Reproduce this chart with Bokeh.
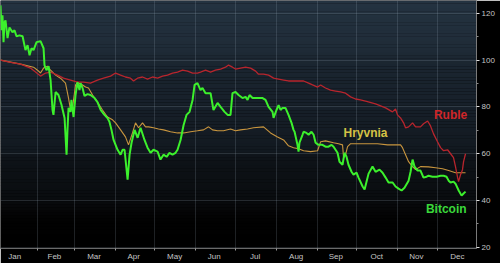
from bokeh.plotting import figure
from bokeh.models import Range1d, FixedTicker, Label, BoxAnnotation
from bokeh.embed import file_html
from bokeh.resources import INLINE

# x = day of 2014 (0 = 1 Jan), y = index (1 Jan = 100)
bitcoin_day = [3.2, 4.0, 4.7, 5.5, 6.2, 7.0, 8.5, 10.0, 12.3, 13.8, 15.3, 17.6, 19.9, 22.1, 23.7, 25.2,
               26.7, 28.2, 30.5, 33.5, 35.8, 36.5, 38.0, 39.6, 41.1, 42.6, 43.3, 44.9, 47.1, 49.4, 51.7,
               53.2, 53.9, 54.7, 56.2, 56.9, 58.5, 60.0, 61.5, 63.0, 63.8, 65.3, 66.8, 69.1, 71.3, 74.4,
               76.6, 79.0, 81.9, 84.2, 85.7, 87.2, 88.8, 90.3, 91.8, 94.1, 95.6, 97.1, 99.4, 100.9, 102.4,
               104.7, 107.0, 109.2, 112.2, 114.5, 116.8, 119.0, 122.1, 124.3, 126.6, 128.9, 131.1, 133.4,
               135.7, 137.2, 139.5, 141.8, 144.0, 146.3, 148.6, 150.1, 152.3, 154.6, 156.1, 158.4, 162.2,
               164.4, 167.5, 169.8, 172.8, 175.1, 177.3, 178.8, 181.1, 183.4, 186.4, 188.7, 190.2, 191.7,
               194.0, 198.5, 201.6, 203.8, 206.1, 209.1, 209.9, 212.1, 213.7, 215.2, 216.7, 218.9, 221.2,
               223.5, 225.0, 225.8, 228.0, 228.8, 229.5, 231.8, 232.6, 234.8, 236.4, 238.6, 240.2, 241.7,
               243.9, 246.9, 249.2, 251.5, 253.8, 255.3, 258.3, 259.8, 262.1, 263.6, 265.1, 266.6, 268.9,
               270.4, 272.7, 274.2, 277.3, 278.8, 280.3, 281.8, 284.8, 287.1, 290.1, 292.4, 294.7, 296.9,
               300.0, 302.2, 304.5, 306.8, 309.0, 312.1, 313.6, 315.1, 316.6, 318.9, 321.1, 323.4, 325.7,
               327.2, 330.2, 333.3, 336.3, 338.6, 340.8, 342.4, 343.9, 346.1, 347.6, 350.0, 352.2, 353.7,
               355.2]
bitcoin_val = [123.4, 112.8, 119.2, 107.7, 116.2, 117.0, 109.4, 114.0, 111.9, 112.8, 110.2, 110.6, 110.2,
               104.3, 106.4, 102.1, 105.1, 104.3, 107.7, 108.1, 105.1, 97.9, 95.7, 97.4, 91.5, 78.7, 76.6,
               86.4, 85.1, 80.8, 75.3, 59.6, 70.2, 79.6, 77.9, 83.0, 75.7, 85.1, 90.6, 87.2, 90.2, 88.1,
               84.7, 85.5, 85.1, 83.8, 82.1, 78.7, 76.6, 75.3, 73.6, 70.2, 65.9, 63.8, 61.7, 59.6, 61.7,
               61.7, 48.9, 59.6, 64.7, 70.2, 66.8, 71.1, 65.9, 62.6, 60.4, 61.7, 60.9, 57.5, 59.6, 58.7,
               60.4, 59.6, 60.4, 61.7, 65.9, 72.3, 76.6, 77.9, 83.0, 89.4, 90.2, 87.2, 88.1, 85.9, 85.9,
               78.7, 81.7, 80.0, 77.9, 76.6, 76.6, 85.9, 86.4, 85.1, 83.8, 84.3, 83.0, 85.1, 83.8, 83.8,
               83.8, 83.0, 80.0, 77.9, 75.3, 78.7, 80.8, 78.7, 79.6, 79.6, 76.6, 73.2, 70.2, 69.4, 63.8,
               60.9, 64.7, 68.1, 69.4, 68.9, 68.1, 69.4, 68.1, 64.7, 63.8, 63.8, 63.0, 63.0, 63.8, 63.0,
               60.4, 56.6, 55.3, 60.4, 58.7, 55.3, 52.3, 51.1, 51.9, 49.8, 46.0, 44.7, 48.1, 51.5, 54.5,
               52.3, 53.2, 51.9, 49.8, 47.7, 47.7, 46.0, 45.1, 44.3, 45.5, 48.5, 52.3, 57.5, 54.5, 52.8,
               52.8, 49.8, 50.2, 50.6, 50.2, 50.2, 50.6, 50.6, 50.2, 48.5, 47.7, 48.1, 47.2, 44.3, 42.1,
               43.0, 43.8]

ruble_day = [3.2, 10.8, 18.4, 25.9, 29.7, 33.5, 37.3, 41.1, 46.4, 50.9, 56.2, 61.5, 66.0, 71.3, 76.6, 81.2,
             86.5, 90.3, 94.1, 97.8, 101.6, 103.9, 106.9, 110.7, 114.5, 118.3, 122.1, 125.9, 129.6, 133.4,
             137.2, 141.0, 144.8, 148.6, 152.3, 154.6, 158.4, 162.2, 165.9, 169.8, 173.5, 175.8, 178.8,
             181.1, 184.9, 188.7, 192.5, 196.3, 198.5, 202.3, 206.1, 209.9, 213.7, 217.5, 221.2, 225.0,
             228.8, 232.6, 236.4, 239.4, 243.2, 245.5, 249.2, 253.0, 256.8, 260.6, 264.4, 268.2, 271.9,
             275.7, 279.5, 287.1, 294.7, 299.9, 302.2, 303.7, 306.0, 308.3, 309.8, 312.1, 315.1, 317.4,
             321.1, 323.4, 326.5, 328.7, 331.0, 334.0, 336.3, 338.6, 341.6, 343.9, 346.1, 347.6, 349.2,
             349.9, 351.4, 352.9, 353.7, 355.2]
ruble_val = [100.0, 99.1, 98.3, 96.6, 94.9, 93.2, 94.5, 94.9, 93.6, 92.3, 91.5, 90.6, 90.6, 90.2, 91.5,
             92.3, 93.2, 94.5, 93.6, 92.8, 92.3, 91.1, 92.3, 92.8, 91.9, 92.8, 92.3, 93.2, 93.6, 94.5,
             94.9, 95.7, 95.3, 94.5, 94.5, 94.9, 95.7, 94.9, 95.7, 96.2, 97.0, 97.9, 97.0, 96.2, 96.6,
             97.0, 96.6, 95.3, 94.0, 94.0, 93.6, 92.3, 91.9, 91.5, 91.1, 91.1, 91.1, 91.1, 90.2, 89.4,
             88.5, 89.4, 88.1, 87.2, 86.8, 86.4, 85.9, 84.3, 83.4, 83.0, 82.5, 81.3, 79.6, 77.9, 79.1,
             76.6, 75.3, 73.2, 71.1, 71.5, 73.2, 71.5, 71.5, 72.8, 74.0, 71.9, 68.5, 65.1, 62.6, 61.3,
             61.7, 60.0, 58.3, 54.5, 49.8, 48.1, 51.0, 53.2, 56.6, 60.0]

hryvnia_day = [3.2, 18.4, 28.2, 31.2, 33.5, 35.8, 38.8, 41.1, 44.9, 48.6, 52.4, 54.7, 56.2, 57.7, 60.0,
               61.5, 65.3, 67.6, 69.8, 72.9, 76.6, 80.4, 84.2, 88.0, 90.3, 94.1, 97.8, 100.1, 103.1, 105.4,
               107.7, 110.7, 113.0, 115.3, 119.0, 122.8, 126.6, 131.9, 137.2, 141.8, 147.1, 152.3, 156.9,
               160.7, 163.7, 167.5, 172.0, 177.3, 181.1, 184.9, 190.2, 194.7, 202.3, 207.6, 212.9, 217.5,
               221.2, 225.0, 228.8, 232.6, 237.9, 243.2, 245.5, 249.2, 255.3, 259.1, 262.1, 262.9, 264.4,
               265.9, 268.2, 273.5, 281.0, 288.6, 296.2, 302.2, 306.0, 307.5, 309.8, 312.1, 315.1, 317.4,
               321.1, 327.2, 332.5, 337.8, 342.4, 347.6, 351.4, 355.2]
hryvnia_val = [100.0, 98.3, 97.0, 95.7, 94.5, 96.6, 97.4, 95.7, 93.6, 92.3, 90.2, 83.8, 78.7, 79.6, 89.4,
               90.6, 89.4, 88.5, 88.1, 85.1, 82.1, 78.7, 75.7, 74.5, 73.2, 70.2, 67.2, 63.8, 68.9, 73.2,
               71.1, 73.2, 71.5, 71.5, 71.1, 70.6, 70.2, 69.4, 68.9, 68.9, 69.4, 69.8, 70.2, 71.5, 70.2,
               69.8, 69.8, 70.6, 69.8, 70.2, 70.6, 71.1, 71.5, 68.9, 67.2, 65.9, 63.4, 62.6, 62.1, 61.3,
               60.9, 61.3, 65.1, 65.5, 64.7, 64.3, 63.8, 58.3, 59.6, 63.0, 64.3, 64.3, 64.3, 64.3, 63.8,
               63.8, 63.8, 62.6, 59.6, 56.6, 54.5, 53.2, 54.5, 54.4, 54.0, 53.6, 52.8, 51.9, 51.9, 51.9]

month_labels = ["Jan", "Feb", "Mar", "Apr", "May", "Jun", "Jul", "Aug", "Sep", "Oct", "Nov", "Dec"]
month_mid_day = [14, 44, 74, 104, 135, 165, 196, 227, 257, 288, 318, 349]
month_start_day = [31, 59, 90, 120, 151, 181, 212, 243, 273, 304, 334]
y_ticks = [20, 40, 60, 80, 100, 120]
y_minor_ticks = [30, 50, 70, 90, 110]
year_label = "2014"

X0, X1 = 3.2, 363.5
Y0, Y1 = 19.5, 125.5
p = figure(width=500, height=263, output_backend="svg", toolbar_location=None,
           x_range=Range1d(X0, X1), y_range=Range1d(Y0, Y1),
           y_axis_location="right",
           min_border_left=0, min_border_top=0, min_border_right=24, min_border_bottom=14)
p.background_fill_color = "#000000"
p.border_fill_color = "#000000"
p.outline_line_color = None

# background vertical gradient (style only)
stops = [(0.0, (0x24, 0x33, 0x41)), (0.20, (0x1f, 0x2b, 0x37)), (0.235, (0x1b, 0x26, 0x31)),
         (0.42, (0x17, 0x20, 0x2a)), (0.60, (0x12, 0x19, 0x20)), (0.635, (0x0e, 0x13, 0x18)),
         (0.80, (0x09, 0x0c, 0x0f)), (0.845, (0x05, 0x06, 0x07)), (0.89, (0x01, 0x01, 0x01)),
         (1.0, (0, 0, 0))]

def grad(f):
    for (f0, c0), (f1, c1) in zip(stops[:-1], stops[1:]):
        if f0 <= f <= f1:
            t = (f - f0) / (f1 - f0) if f1 > f0 else 0
            return "#%02x%02x%02x" % tuple(int(round(a + (b - a) * t)) for a, b in zip(c0, c1))
    return "#000000"

n = 90
for i in range(n):
    f0, f1 = i / n, (i + 1) / n
    top = Y1 - f0 * (Y1 - Y0)
    bot = Y1 - f1 * (Y1 - Y0) - 0.05
    p.add_layout(BoxAnnotation(top=top, bottom=bot, fill_color=grad((f0 + f1) / 2), fill_alpha=1,
                               line_color=None, level="image"))

p.xgrid.ticker = FixedTicker(ticks=month_start_day)
p.ygrid.ticker = FixedTicker(ticks=y_ticks)
for g in (p.xgrid, p.ygrid):
    g.grid_line_color = "#a8b8c8"
    g.grid_line_alpha = 0.18
    g.grid_line_width = 1

p.line(hryvnia_day, hryvnia_val, line_color="#c8953e", line_width=1.1)
p.line(ruble_day, ruble_val, line_color="#b8252d", line_width=1.3)
p.line(bitcoin_day, bitcoin_val, line_color="#3cf02c", line_width=2)

xa = p.xaxis[0]
xa.ticker = FixedTicker(ticks=month_mid_day, minor_ticks=month_start_day)
xa.major_label_overrides = {d: m for d, m in zip(month_mid_day, month_labels)}
xa.major_tick_line_color = None
xa.major_tick_in = 0
xa.major_tick_out = 0
xa.minor_tick_in = 0
xa.minor_tick_out = 2
xa.minor_tick_line_color = "#9a9a9a"
xa.axis_line_color = "#6a6a6a"
xa.major_label_standoff = 1
xa.major_label_text_font = "Liberation Sans"
xa.major_label_text_font_size = "8px"
xa.major_label_text_color = "#c4c4c4"

ya = p.yaxis[0]
ya.ticker = FixedTicker(ticks=y_ticks, minor_ticks=y_minor_ticks)
ya.axis_line_color = "#7a7a7a"
ya.major_tick_in = 0
ya.major_tick_out = 3
ya.major_tick_line_color = "#e0e0e0"
ya.minor_tick_in = 0
ya.minor_tick_out = 2
ya.minor_tick_line_color = "#8a8a8a"
ya.major_label_standoff = 2
ya.major_label_text_font = "Liberation Sans"
ya.major_label_text_font_size = "8px"
ya.major_label_text_color = "#c4c4c4"

p.add_layout(Label(x=(X0 + X1) / 2, y=Y0, y_offset=-13.5, text=year_label,
                   text_align="center", text_baseline="bottom", text_font="Liberation Sans",
                   text_font_size="7.5px", text_color="#c4c4c4"))

for txt, x, y, col in [("Ruble", 343.9, 76.5, "#d02629"),
                       ("Hryvnia", 279.5, 68.9, "#d4c245"),
                       ("Bitcoin", 340.6, 36.5, "#3ad83a")]:
    p.add_layout(Label(x=x, y=y, text=txt, text_align="center", text_baseline="middle",
                       text_font="Liberation Sans", text_font_style="bold", text_font_size="12px",
                       text_color=col))

open("out.html", "w").write(file_html(p, INLINE))
